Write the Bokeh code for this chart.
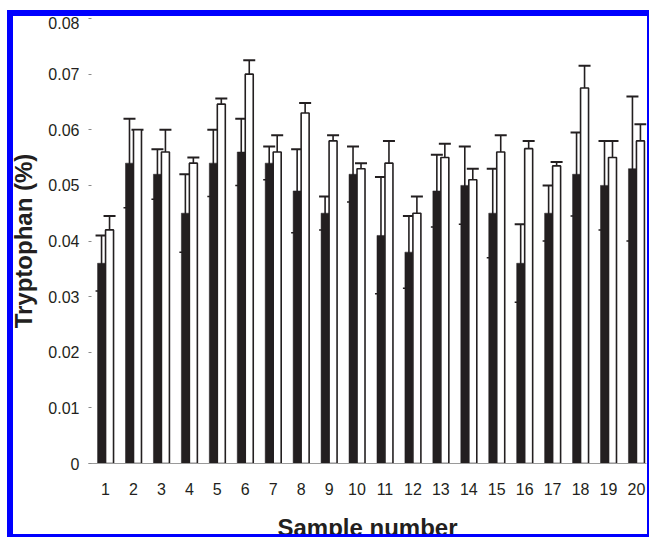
from bokeh.plotting import figure
from bokeh.models import ColumnDataSource, Whisker, FixedTicker, TeeHead, Range1d
from bokeh.transform import dodge
from bokeh.embed import file_html
from bokeh.resources import INLINE

# ---- data ----
samples = list(range(1, 21))
black_vals = [0.036, 0.054, 0.052, 0.045, 0.054, 0.056, 0.054, 0.049, 0.045, 0.052,
              0.041, 0.038, 0.049, 0.050, 0.045, 0.036, 0.045, 0.052, 0.050, 0.053]
black_err = [0.005, 0.008, 0.0045, 0.007, 0.006, 0.006, 0.003, 0.0075, 0.003, 0.005,
             0.0105, 0.0065, 0.0065, 0.007, 0.008, 0.007, 0.005, 0.0075, 0.008, 0.013]
white_vals = [0.042, 0.060, 0.056, 0.054, 0.0646, 0.070, 0.056, 0.063, 0.058, 0.053,
              0.054, 0.045, 0.055, 0.051, 0.056, 0.0566, 0.0535, 0.0675, 0.055, 0.058]
white_err = [0.0025, 0.0, 0.004, 0.001, 0.001, 0.0025, 0.003, 0.0018, 0.001, 0.001,
             0.004, 0.003, 0.0025, 0.002, 0.003, 0.0014, 0.0007, 0.004, 0.003, 0.003]
y_ticks = [0, 0.01, 0.02, 0.03, 0.04, 0.05, 0.06, 0.07, 0.08]
y_tick_labels = ["0", "0.01", "0.02", "0.03", "0.04", "0.05", "0.06", "0.07", "0.08"]
x_title = "Sample number"
y_title = "Tryptophan (%)"

DARK = "#231f20"
FONT = "Liberation Sans"
BAR_W = 0.286
OFF = 0.143

src = ColumnDataSource(dict(
    x=samples,
    b=black_vals,
    b_up=[v + e for v, e in zip(black_vals, black_err)],
    b_lo=[v - e for v, e in zip(black_vals, black_err)],
    w=white_vals,
    w_up=[v + e for v, e in zip(white_vals, white_err)],
))

p = figure(width=642, height=527, output_backend="svg", toolbar_location=None,
           x_range=Range1d(0.39, 20.36), y_range=Range1d(0, 0.08),
           min_border_left=81, min_border_right=3, min_border_top=2, min_border_bottom=79)
p.styles = {"margin-left": "7px", "margin-top": "10px",
            "border-top": "6px solid #0000ff",
            "border-right": "2px solid #0000ff", "border-bottom": "3px solid #0000ff",
            "background": "linear-gradient(to right, #0000ff 0px, #0000ff 6px, #ffffff 6px, #ffffff 100%)"}
p.background_fill_color = "white"
p.border_fill_color = None
p.outline_line_color = None
p.xgrid.grid_line_color = None
p.ygrid.grid_line_color = None

p.vbar(x=dodge("x", -OFF), top="b", width=BAR_W, source=src,
       fill_color=DARK, line_color=DARK, line_width=0.5)
p.vbar(x=dodge("x", OFF), top="w", width=BAR_W, source=src,
       fill_color="white", line_color=DARK, line_width=1.6)

wb = Whisker(base=dodge("x", -OFF), upper="b_up", lower="b_lo", source=src,
             line_color=DARK, line_width=1.6,
             upper_head=TeeHead(size=12, line_color=DARK, line_width=2),
             lower_head=TeeHead(size=12, line_color=DARK, line_width=1.5))
p.add_layout(wb)
ww = Whisker(base=dodge("x", OFF), upper="w_up", lower="w", source=src,
             line_color=DARK, line_width=1.6,
             upper_head=TeeHead(size=12, line_color=DARK, line_width=2),
             lower_head=None)
p.add_layout(ww)

# axes
p.xaxis.ticker = FixedTicker(ticks=samples)
p.xaxis.axis_line_color = "#9a9a9a"
p.xaxis.axis_line_width = 1
p.xaxis.major_tick_line_color = None
p.xaxis.minor_tick_line_color = None
p.xaxis.major_label_standoff = 13
p.xaxis.major_label_text_font = FONT
p.xaxis.major_label_text_font_size = "16px"
p.xaxis.major_label_text_color = DARK
p.xaxis.axis_label = x_title
p.xaxis.axis_label_text_font = FONT
p.xaxis.axis_label_text_font_size = "24px"
p.xaxis.axis_label_text_font_style = "bold"
p.xaxis.axis_label_text_color = DARK
p.xaxis.axis_label_standoff = 16

p.yaxis.ticker = FixedTicker(ticks=y_ticks)
p.yaxis.major_label_overrides = {t: l for t, l in zip(y_ticks, y_tick_labels)}
p.yaxis.axis_line_color = None
p.yaxis.major_tick_line_color = "#8a8a8a"
p.yaxis.major_tick_in = 3
p.yaxis.major_tick_out = 0
p.yaxis.minor_tick_line_color = None
p.yaxis.major_label_standoff = 9
p.yaxis.major_label_text_font = FONT
p.yaxis.major_label_text_font_size = "16px"
p.yaxis.major_label_text_color = DARK
p.yaxis.axis_label = y_title
p.yaxis.axis_label_text_font = FONT
p.yaxis.axis_label_text_font_size = "24px"
p.yaxis.axis_label_text_font_style = "bold"
p.yaxis.axis_label_text_color = DARK
p.yaxis.axis_label_standoff = 8

open("out.html", "w").write(file_html(p, INLINE))
